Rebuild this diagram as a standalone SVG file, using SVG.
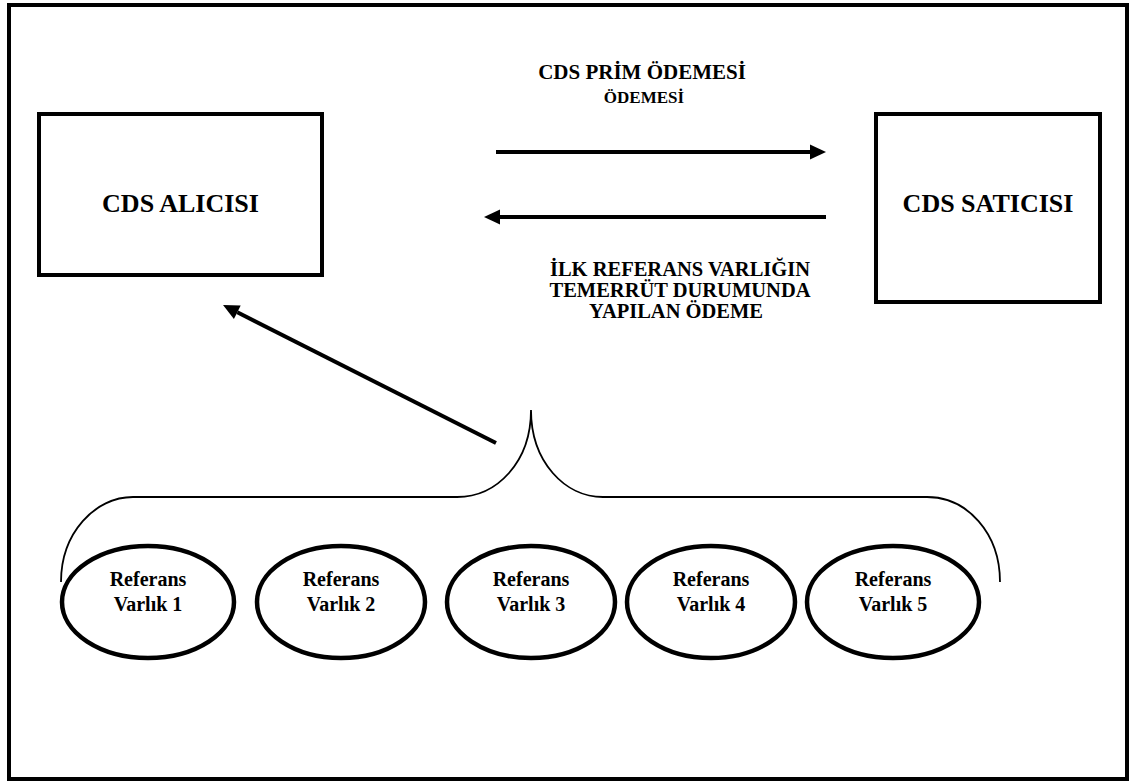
<svg xmlns="http://www.w3.org/2000/svg" width="1130" height="781" viewBox="0 0 1130 781">
<style>
  .box { fill: #fff; stroke: #000; stroke-width: 4; }
  .ell { fill: #fff; stroke: #000; stroke-width: 4.5; }
  .t { font-family: "Liberation Serif", "Times New Roman", serif; font-weight: bold; fill: #000; text-anchor: middle; }
  .big { font-size: 26px; }
  .mid { font-size: 20.5px; }
  .top1 { font-size: 21px; }
  .sm { font-size: 17px; }
  .lbl { font-size: 20px; }
  .arrow { stroke: #000; stroke-width: 4; fill: none; }
  .brace { stroke: #000; stroke-width: 1.8; fill: none; }
</style>
<defs>
  <marker id="ah" markerUnits="userSpaceOnUse" markerWidth="18" markerHeight="16" viewBox="0 -8 16 16" refX="0" refY="0" orient="auto">
    <path d="M0,-7.5 L16,0 L0,7.5 z" fill="#000"/>
  </marker>
</defs>
<rect width="1130" height="781" fill="#fff"/>
<rect id="frame" x="9" y="5" width="1118" height="774" fill="none" stroke="#000" stroke-width="4"/>

<g id="buyer">
  <rect class="box" x="39" y="114" width="283" height="161"/>
  <text class="t big" x="180.5" y="212">CDS ALICISI</text>
</g>
<g id="seller">
  <rect class="box" x="876" y="114" width="224" height="188"/>
  <text class="t big" x="988" y="212">CDS SATICISI</text>
</g>

<g id="labels">
  <text class="t top1" x="642" y="79">CDS PRİM ÖDEMESİ</text>
  <text class="t sm" x="644" y="103">ÖDEMESİ</text>
  <text class="t mid" x="680" y="276">İLK REFERANS VARLIĞIN</text>
  <text class="t mid" x="680" y="297">TEMERRÜT DURUMUNDA</text>
  <text class="t mid" x="676" y="318">YAPILAN ÖDEME</text>
</g>

<g id="connectors">
  <line class="arrow" x1="496" y1="152" x2="810" y2="152" marker-end="url(#ah)"/>
  <line class="arrow" x1="826" y1="217" x2="500" y2="217" marker-end="url(#ah)"/>
  <line class="arrow" x1="496" y1="443" x2="237.3" y2="312.2" marker-end="url(#ah)"/>
  <path id="brace" class="brace" d="M61,582 C61,533 95,497 133,497 L457,497 C497,497 531,462 531,410 C531,462 565,497 603,497 L927,497 C967,497 1000,533 1000,582"/>
</g>

<g id="ref1">
  <ellipse class="ell" cx="148" cy="602" rx="86" ry="56"/>
  <text class="t lbl" x="148" y="586">Referans</text>
  <text class="t lbl" x="148" y="611">Varlık 1</text>
</g>
<g id="ref2">
  <ellipse class="ell" cx="341" cy="602" rx="84" ry="56"/>
  <text class="t lbl" x="341" y="586">Referans</text>
  <text class="t lbl" x="341" y="611">Varlık 2</text>
</g>
<g id="ref3">
  <ellipse class="ell" cx="531" cy="602" rx="84" ry="56"/>
  <text class="t lbl" x="531" y="586">Referans</text>
  <text class="t lbl" x="531" y="611">Varlık 3</text>
</g>
<g id="ref4">
  <ellipse class="ell" cx="711" cy="602" rx="84" ry="56"/>
  <text class="t lbl" x="711" y="586">Referans</text>
  <text class="t lbl" x="711" y="611">Varlık 4</text>
</g>
<g id="ref5">
  <ellipse class="ell" cx="893" cy="602" rx="86" ry="56"/>
  <text class="t lbl" x="893" y="586">Referans</text>
  <text class="t lbl" x="893" y="611">Varlık 5</text>
</g>
</svg>
